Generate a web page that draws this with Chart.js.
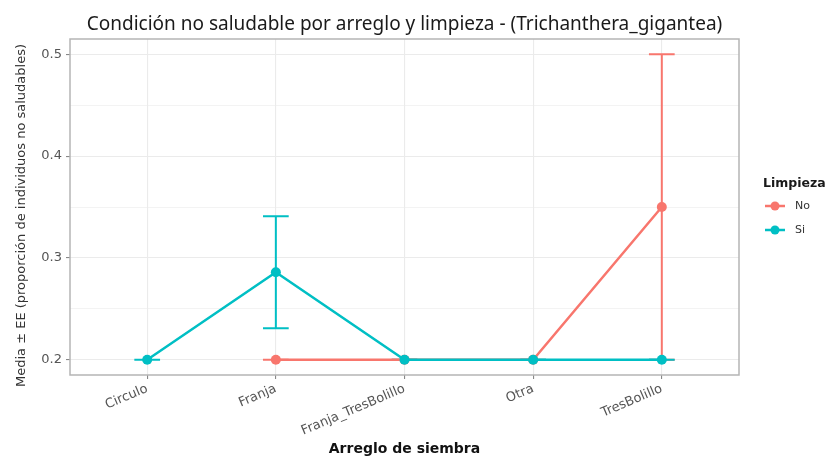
<!DOCTYPE html>
<html><head><meta charset="utf-8">
<script src="https://cdn.jsdelivr.net/npm/chart.js@4.4.1/dist/chart.umd.min.js"></script>
<style>html,body{margin:0;padding:0;background:#fff;} #wrap{width:831px;height:458px;}</style>
</head><body><div id="wrap"><canvas id="c" width="831" height="458"></canvas></div>
<script>
const chartTitle = 'Condición no saludable por arreglo y limpieza - (Trichanthera_gigantea)';
const xTitle = 'Arreglo de siembra';
const yTitle = 'Media ± EE (proporción de individuos no saludables)';
const legendTitle = 'Limpieza';
const categories = ['Circulo','Franja','Franja_TresBolillo','Otra','TresBolillo'];
const groups = ['No','Si'];
const noMean = [null,0.2,0.2,0.2,0.35];
const noLow  = [null,0.2,0.2,0.2,0.2];
const noHigh = [null,0.2,0.2,0.2,0.5];
const siMean = [0.2,0.286,0.2,0.2,0.2];
const siLow  = [0.2,0.231,0.2,0.2,0.2];
const siHigh = [0.2,0.341,0.2,0.2,0.2];
const yTicks = [0.2,0.25,0.3,0.35,0.4,0.45,0.5];
const colors = ['#F8766D','#00BFC4'];

const means = [noMean, siMean], lows = [noLow, siLow], highs = [noHigh, siHigh];
const isMajor = v => Math.abs(v*10 - Math.round(v*10)) < 1e-6;

Chart.defaults.font.family = '"DejaVu Sans", sans-serif';

const errorBars = {
  id: 'errorBars',
  beforeDatasetsDraw(chart) {
    const {ctx, scales: {x, y}} = chart;
    ctx.save();
    ctx.lineWidth = 2;
    groups.forEach((g, gi) => {
      ctx.strokeStyle = colors[gi];
      means[gi].forEach((m, i) => {
        if (m === null) return;
        const cx = x.getPixelForValue(i + 1);
        const xl = x.getPixelForValue(i + 1 - 0.1), xr = x.getPixelForValue(i + 1 + 0.1);
        const yl = y.getPixelForValue(lows[gi][i]), yh = y.getPixelForValue(highs[gi][i]);
        ctx.beginPath();
        ctx.moveTo(cx, yl); ctx.lineTo(cx, yh);
        ctx.moveTo(xl, yh); ctx.lineTo(xr, yh);
        ctx.moveTo(xl, yl); ctx.lineTo(xr, yl);
        ctx.stroke();
      });
    });
    ctx.restore();
  }
};

const decor = {
  id: 'decor',
  afterDraw(chart) {
    const {ctx, chartArea: a} = chart;
    ctx.save();
    // panel border
    ctx.strokeStyle = '#b5b5b5';
    ctx.lineWidth = 1.5;
    ctx.strokeRect(a.left, a.top, a.right - a.left, a.bottom - a.top);
    // title
    ctx.fillStyle = '#1a1a1a';
    ctx.font = '19px "Noto Sans", sans-serif';
    ctx.textAlign = 'center';
    ctx.textBaseline = 'alphabetic';
    ctx.fillText(chartTitle, (a.left + a.right) / 2, 30);
    // y axis title
    ctx.save();
    ctx.translate(22, 215.5);
    ctx.rotate(-Math.PI / 2);
    ctx.fillStyle = '#333';
    ctx.font = '13px "DejaVu Sans", sans-serif';
    ctx.textAlign = 'center';
    ctx.textBaseline = 'middle';
    ctx.fillText(yTitle, 0, 0);
    ctx.restore();
    // legend
    ctx.textAlign = 'left';
    ctx.textBaseline = 'middle';
    ctx.fillStyle = '#1a1a1a';
    ctx.font = 'bold 12.5px "DejaVu Sans", sans-serif';
    ctx.fillText(legendTitle, 763, 184);
    ctx.font = '11px "DejaVu Sans", sans-serif';
    groups.forEach((g, gi) => {
      const ly = 206 + gi * 24;
      ctx.strokeStyle = colors[gi];
      ctx.lineWidth = 2.5;
      ctx.beginPath(); ctx.moveTo(765, ly); ctx.lineTo(785, ly); ctx.stroke();
      ctx.fillStyle = colors[gi];
      ctx.beginPath(); ctx.arc(775, ly, 4.5, 0, Math.PI * 2); ctx.fill();
      ctx.fillStyle = '#333';
      ctx.fillText(g, 795, ly);
    });
    ctx.restore();
  }
};

const datasets = groups.map((g, gi) => ({
  label: g,
  data: categories.map((c, i) => ({x: i + 1, y: means[gi][i]})),
  borderColor: colors[gi],
  backgroundColor: colors[gi],
  pointBackgroundColor: colors[gi],
  borderWidth: 2.5,
  pointRadius: 5,
  pointBorderWidth: 0,
  pointHoverRadius: 5,
  tension: 0,
  order: gi === 1 ? 0 : 1
}));

new Chart(document.getElementById('c'), {
  type: 'line',
  data: {datasets},
  plugins: [errorBars, decor],
  options: {
    responsive: false,
    animation: false,
    events: [],
    layout: {padding: {left: 0, right: 92, top: 39, bottom: 0}},
    plugins: {legend: {display: false}, tooltip: {enabled: false}, title: {display: false}},
    scales: {
      x: {
        type: 'linear', min: 0.4, max: 5.6,
        afterBuildTicks: s => { s.ticks = categories.map((c, i) => ({value: i + 1})); },
        afterFit: s => { s.height = 83; },
        ticks: {
          callback: v => categories[Math.round(v) - 1],
          autoSkip: false, minRotation: 23, maxRotation: 23,
          color: '#555', font: {size: 13}, padding: 2
        },
        grid: {color: '#EBEBEB', lineWidth: 1.1, tickColor: '#888', tickLength: 4, drawTicks: true},
        border: {display: false},
        title: {display: true, text: xTitle, color: '#111', font: {size: 14, weight: 'bold'}, padding: {top: 0, bottom: 0}}
      },
      y: {
        type: 'linear', min: 0.185, max: 0.515,
        afterBuildTicks: s => { s.ticks = yTicks.map(v => ({value: v})); },
        afterFit: s => { s.width = 70; },
        ticks: {
          callback: v => isMajor(v) ? v.toFixed(1) : '',
          color: '#555', font: {size: 13}, padding: 4
        },
        grid: {
          color: '#EBEBEB',
          lineWidth: c => (c.tick && isMajor(c.tick.value)) ? 1.1 : 0.6,
          tickColor: c => (c.tick && isMajor(c.tick.value)) ? '#888' : 'rgba(0,0,0,0)',
          tickLength: 4, drawTicks: true
        },
        border: {display: false}
      }
    }
  }
});
</script></body></html>
